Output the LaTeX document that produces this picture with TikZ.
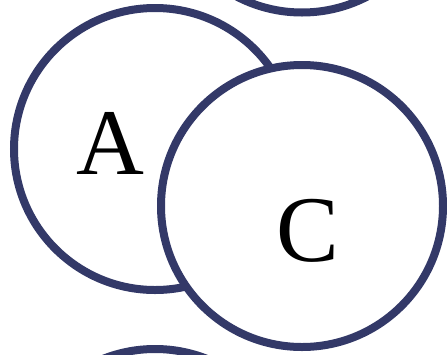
\documentclass[tikz,border=0pt]{standalone}
\usepackage{fontspec}
\setmainfont{Liberation Serif}
\usetikzlibrary{positioning}
\definecolor{ringblue}{RGB}{51,57,104}

\begin{document}
\begin{tikzpicture}[
  x=1pt, y=-1pt,
  ball/.style={circle, draw=ringblue, line width=8pt, fill=white,
               minimum size=282pt, inner sep=0pt},
  lbl/.style={font=\fontsize{94}{94}\selectfont, inner sep=0pt}
]
\useasboundingbox (0,0) rectangle (447,354);
\node[ball] (b) at (302,-128.5) {};
\node[ball] (a) at (155,149) {};
\node[ball] (d) at (155,490) {};
\node[ball] (c) at (302,206) {};
\node[lbl] (la) at ([shift={(-44.5,-6)}]a.center) {A};
\node[lbl] (lc) at ([shift={(6,25)}]c.center) {C};
\end{tikzpicture}
\end{document}
